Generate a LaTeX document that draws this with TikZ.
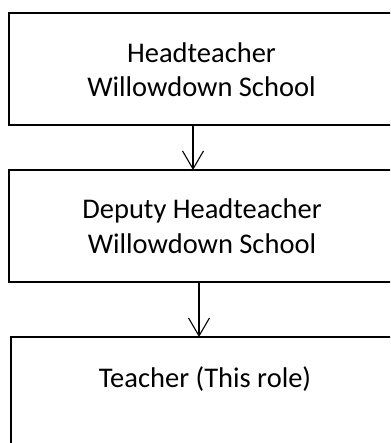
\documentclass[tikz,border=0pt]{standalone}
\usepackage{fontspec}
\setmainfont{Carlito}
\usetikzlibrary{arrows.meta}
\begin{document}
\begin{tikzpicture}[x=1pt,y=-1pt,
  rolebox/.style={draw=black,line width=1.3pt,rectangle,inner sep=0pt,outer sep=0pt,anchor=north west},
  roletext/.style={font=\fontsize{28.5}{34.5}\selectfont,align=center,inner sep=0pt,anchor=base},
  link/.style={line width=1.1pt,-{Straight Barb[length=18pt,width=21pt,line width=1.1pt]}}]
\useasboundingbox (0,0) rectangle (390,443);
\clip (0,0) rectangle (390,443);
\node[rolebox,minimum width=386pt,minimum height=112pt] (b1) at (9,13) {};
\node[rolebox,minimum width=386pt,minimum height=112pt] (b2) at (9,170) {};
\node[rolebox,minimum width=388pt,minimum height=130pt] (b3) at (11,337) {};
\node[roletext] (t1) at (201.5,97) {Headteacher\\Willowdown School};
\node[roletext] (t2) at (202,253) {Deputy Headteacher\\Willowdown School};
\node[roletext] (t3) at (205,387) {Teacher (This role)};
\coordinate (x1) at (193,0);
\coordinate (x2) at (199,0);
\draw[link] (b1.south -| x1) -- (b2.north -| x1);
\draw[link] (b2.south -| x2) -- (b3.north -| x2);
\end{tikzpicture}
\end{document}
